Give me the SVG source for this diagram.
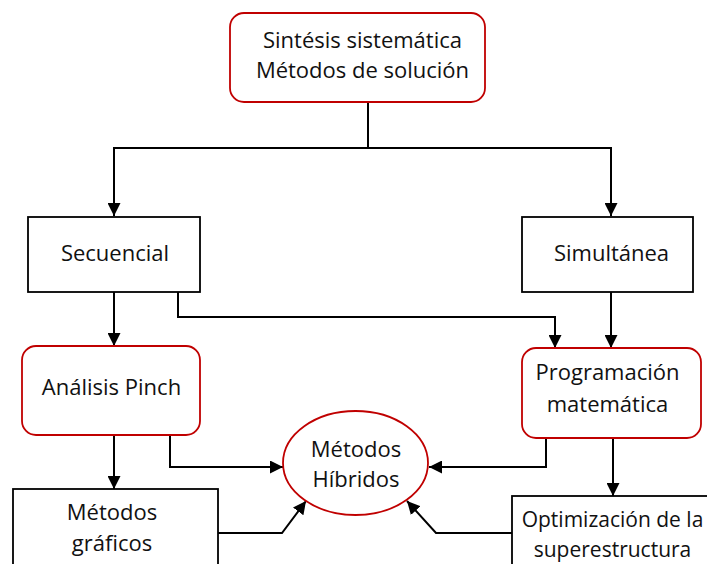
<svg xmlns="http://www.w3.org/2000/svg" width="707" height="564" viewBox="0 0 707 564">
<style>
.t{font-family:"Open Sans","Liberation Sans",sans-serif;font-size:22px;fill:#111;text-anchor:middle}
.s{font-size:21px}
.r{fill:#fff;stroke:#C00000;stroke-width:1.8}
.b{fill:#fff;stroke:#000;stroke-width:1.8}
.c{fill:none;stroke:#000;stroke-width:2;marker-end:url(#ah)}
.n{fill:none;stroke:#000;stroke-width:2}
</style>
<defs>
<marker id="ah" markerUnits="userSpaceOnUse" markerWidth="13" markerHeight="13" refX="13" refY="6.5" orient="auto">
<path d="M0,0 L13,6.5 L0,13 Z" fill="#000"/>
</marker>
</defs>
<rect width="707" height="564" fill="#fff"/>
<g id="connectors">
<path class="n" d="M368,102 V148"/>
<path class="c" d="M368,148 H114 V216"/>
<path class="c" d="M368,148 H611 V216"/>
<path class="c" d="M114,292 V346"/>
<path class="c" d="M178,292 V317 H555 V348"/>
<path class="c" d="M611,292 V348"/>
<path class="c" d="M114,435 V489"/>
<path class="c" d="M170,435 V467 H283"/>
<path class="c" d="M546,438 V467 H429"/>
<path class="c" d="M613,438 V496"/>
<path class="c" d="M218,533 H282 L306,501"/>
<path class="c" d="M512,533 H436 L407,501"/>
</g>
<g id="sintesis">
<rect class="r" x="230" y="13" width="255" height="89" rx="14"/>
<text class="t" x="362.5" y="48">Sintésis sistemática</text>
<text class="t" x="362.5" y="78">Métodos de solución</text>
</g>
<g id="secuencial">
<rect class="b" x="28" y="217" width="172" height="75"/>
<text class="t" x="115" y="261">Secuencial</text>
</g>
<g id="simultanea">
<rect class="b" x="522" y="217" width="171" height="75"/>
<text class="t" x="611.5" y="261">Simultánea</text>
</g>
<g id="pinch">
<rect class="r" x="22" y="346" width="178" height="89" rx="14"/>
<text class="t" x="111.5" y="395">Análisis Pinch</text>
</g>
<g id="programacion">
<rect class="r" x="522" y="348" width="179" height="90" rx="14"/>
<text class="t" x="607.5" y="380">Programación</text>
<text class="t" x="607.5" y="412">matemática</text>
</g>
<g id="hibridos">
<ellipse class="r" cx="355.5" cy="463" rx="72.5" ry="52"/>
<text class="t" x="356" y="457">Métodos</text>
<text class="t" x="356" y="487">Híbridos</text>
</g>
<g id="graficos">
<rect class="b" x="13" y="489" width="205" height="90"/>
<text class="t" x="112" y="520">Métodos</text>
<text class="t" x="112" y="551">gráficos</text>
</g>
<g id="optimizacion">
<rect class="b" x="512" y="496" width="205" height="90"/>
<text class="t s" x="612.5" y="527">Optimización de la</text>
<text class="t s" x="612.5" y="557">superestructura</text>
</g>
</svg>
